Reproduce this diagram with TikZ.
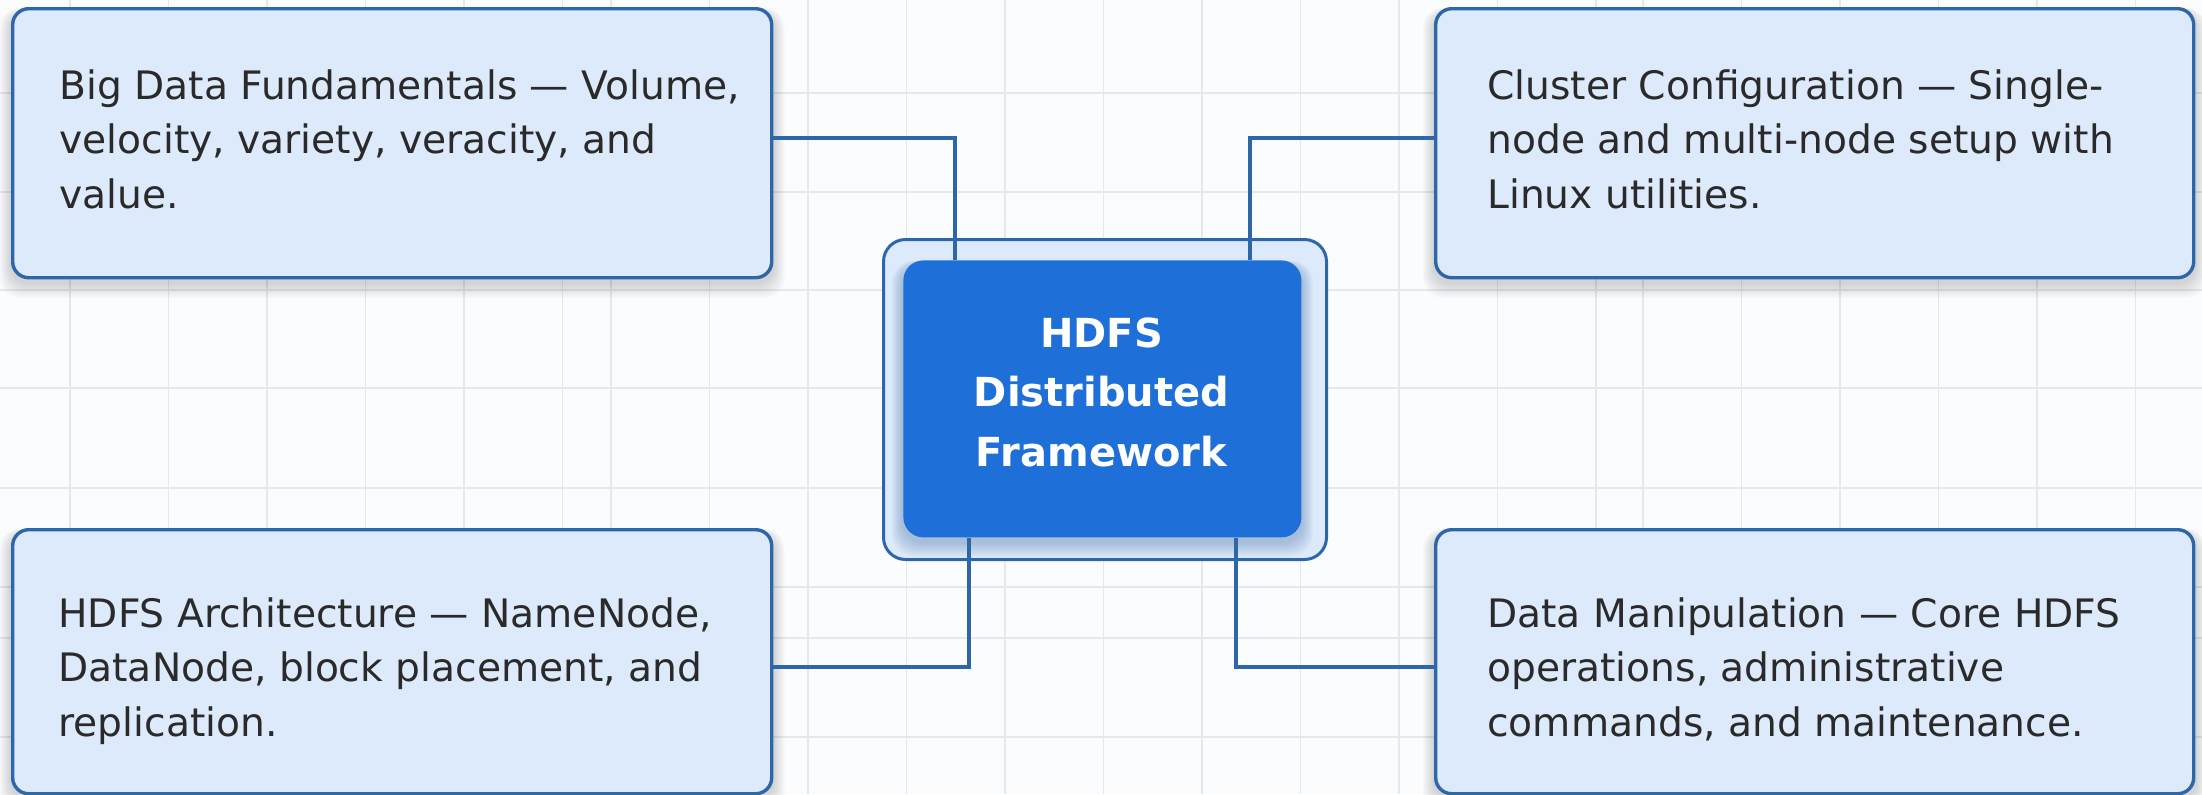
\documentclass[tikz,border=0pt]{standalone}
\usepackage{fontspec}
\setmainfont{DejaVu Sans}
\usetikzlibrary{backgrounds}
\definecolor{bgc}{HTML}{FBFCFE}
\definecolor{gridc}{HTML}{E5E8EC}
\definecolor{boxfill}{HTML}{DDEAFB}
\definecolor{boxline}{HTML}{2E66AA}
\definecolor{hubfill}{HTML}{1F6FD8}
\definecolor{txt}{HTML}{2A2A2A}
\newcommand\mkshadow[4]{%
  \foreach \i in {1,...,8}{%
    \fill[#2, opacity=#4, rounded corners=#3]
      ([shift={(-\i*0.7pt,-2pt-\i*0.9pt)}]#1.south west) rectangle
      ([shift={(\i*0.7pt,-2pt+\i*0.2pt)}]#1.north east);
  }}
\begin{document}
\begin{tikzpicture}[x=0.5pt,y=-0.5pt,
  sidebox/.style={draw=boxline, line width=1.7pt, fill=boxfill, rounded corners=8pt,
    inner sep=0pt, anchor=north west, minimum width=379.5pt},
  framebox/.style={draw=boxline, line width=1.5pt, fill=boxfill, rounded corners=11pt,
    inner sep=0pt, anchor=north west},
  hubbox/.style={fill=hubfill, rounded corners=10pt, inner sep=0pt, anchor=north west},
  boxtext/.style={inner sep=0pt, align=left, text=txt, anchor=north west,
    font={\fontsize{19.6pt}{27.25pt}\selectfont}},
  hubtext/.style={inner sep=0pt, align=center, text=white, anchor=north,
    font={\bfseries\fontsize{20pt}{29.75pt}\selectfont}},
  conn/.style={draw=boxline, line width=2pt},
  gridline/.style={draw=gridc, line width=0.75pt}
]
\useasboundingbox (0,0) rectangle (2202,794);

% boxes
\node[sidebox, minimum height=134.5pt] (b1) at (11,7) {};
\node[sidebox, minimum height=134.5pt, minimum width=379pt] (b2) at (1434,7) {};
\node[sidebox, minimum height=132pt] (b3) at (11,528) {};
\node[sidebox, minimum height=132pt, minimum width=379pt] (b4) at (1434,528) {};

% centre
\node[hubbox, minimum width=199pt, minimum height=138.5pt] (hub) at (903,260) {};

% texts
\node[boxtext] (t1) at (59,67) {\rule{0pt}{16pt}Big Data Fundamentals — Volume,\\velocity, variety, veracity, and\\value.};
\node[boxtext] (t2) at (1487,67) {\rule{0pt}{16pt}Cluster Configuration — Single-\\node and multi-node setup with\\Linux utilities.};
\node[boxtext] (t3) at (58,595) {\rule{0pt}{16pt}HDFS Architecture — NameNode,\\DataNode, block placement, and\\replication.};
\node[boxtext] (t4) at (1487,595) {\rule{0pt}{16pt}Data Manipulation — Core HDFS\\operations, administrative\\commands, and maintenance.};
\node[hubtext] (t0) at (1101.5,315) {\rule{0pt}{16pt}HDFS\\Distributed\\Framework};

% connectors
\coordinate (k1) at (955,138);
\coordinate (k2) at (1250,138);
\coordinate (k3) at (969,667);
\coordinate (k4) at (1236,667);
\draw[conn] (b1.east |- k1) -- (k1) -- (k1 |- hub.north);
\draw[conn] (b2.west |- k2) -- (k2) -- (k2 |- hub.north);
\draw[conn] (b3.east |- k3) -- (k3) -- (k3 |- hub.south);
\draw[conn] (b4.west |- k4) -- (k4) -- (k4 |- hub.south);

\begin{scope}[on background layer]
  \fill[bgc] (0,0) rectangle (2202,794);
  \foreach \x in {70,168.5,267,365.5,464,562.5,611,709.5,808,906.5,1005,1103.5,1202,1300.5,1399,1497.5,1596,1643,1741.5,1840,1938.5,2037,2135.5}
    \draw[gridline] (\x,0) -- (\x,794);
  \foreach \y in {93,192,290,388,488,587,638,737}
    \draw[gridline] (0,\y) -- (2202,\y);
  \mkshadow{b1}{black}{10pt}{0.02}
  \mkshadow{b2}{black}{10pt}{0.02}
  \mkshadow{b3}{black}{10pt}{0.02}
  \mkshadow{b4}{black}{10pt}{0.02}
  \node[framebox, minimum width=221.5pt, minimum height=160pt] (frame) at (882,238) {};
  \mkshadow{hub}{hubfill!60!black}{11pt}{0.035}
\end{scope}
\end{tikzpicture}
\end{document}
